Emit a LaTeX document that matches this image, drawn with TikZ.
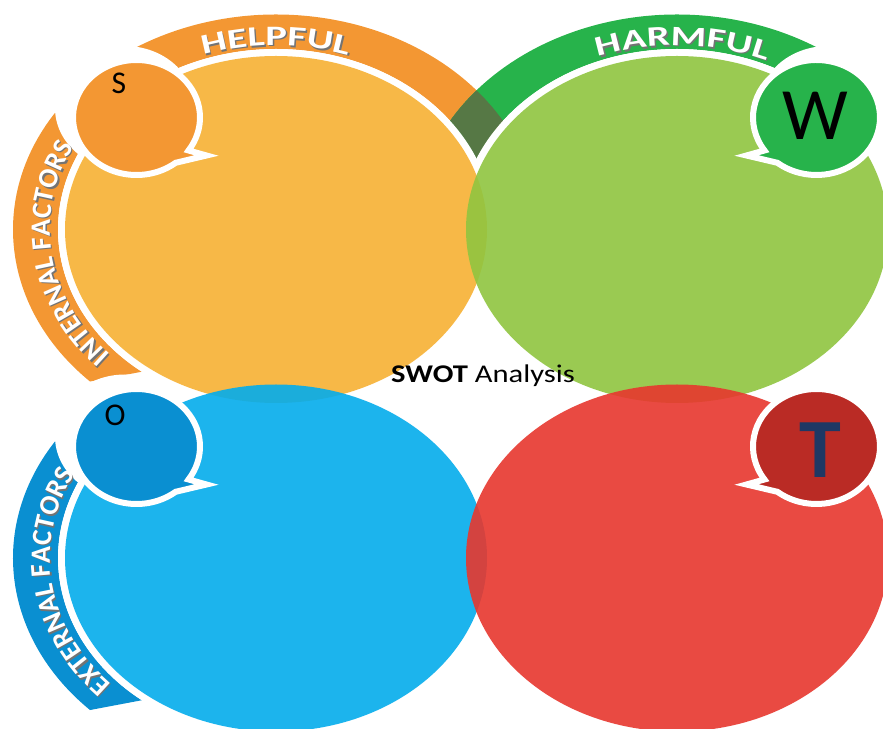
\documentclass[tikz,border=0pt]{standalone}
\usepackage{fontspec}
\setmainfont{Carlito}
\newfontfamily\widefont[FakeStretch=1.45]{Carlito}
\newfontfamily\titlefont[FakeStretch=1.2]{Carlito}
\usetikzlibrary{decorations.text}
\definecolor{helpfill}{RGB}{247,177,51}
\definecolor{harmfill}{RGB}{144,197,64}
\definecolor{oppfill}{RGB}{4,172,236}
\definecolor{threatfill}{RGB}{231,55,46}
\definecolor{helpband}{RGB}{243,151,51}
\definecolor{harmband}{RGB}{39,179,75}
\definecolor{oppband}{RGB}{10,143,209}
\definecolor{threatbub}{RGB}{186,43,37}
\definecolor{crossband}{RGB}{86,120,69}
\definecolor{tnavy}{RGB}{31,56,100}
\newcommand{\bandfont}{\fontsize{16}{16}\selectfont\bfseries}
\newcommand{\archfont}{\widefont\fontsize{16}{16}\selectfont\bfseries}
\newcommand{\bandpath}[2]{(#1:263 and 215) arc[start angle=#1,end angle=#2,x radius=263,y radius=215] -- (#2:218 and 180.5) arc[start angle=#2,end angle=#1-7,x radius=218,y radius=180.5] -- cycle}
\newcommand{\bubblepath}[3]{(#1:63.5 and 57.5) arc[start angle=#1,end angle=#2,x radius=63.5,y radius=57.5] -- #3 -- cycle}
\begin{document}
\begin{tikzpicture}[x=0.2mm,y=-0.2mm,bubble/.style={draw=white,line width=1.2mm},bandtext/.style 2 args={decorate,decoration={text along path,text align=center,text color=#2,text={#1}}}]
\useasboundingbox (0,0) rectangle (883,729);
% bands
\begin{scope}[shift={(276,229.5)}]
  \fill[helpband] \bandpath{135}{340};
\end{scope}
\begin{scope}[shift={(677,229.5)}]
  \fill[harmband] \bandpath{200}{312};
\end{scope}
\begin{scope}
  \clip[shift={(276,229.5)}] \bandpath{135}{340};
  \fill[crossband,shift={(677,229.5)}] \bandpath{200}{312};
\end{scope}
\begin{scope}[shift={(276,558)}]
  \fill[oppband] \bandpath{135}{228};
\end{scope}
% gaps round the bubbles and the ellipses
\fill[white] (125,108) ellipse[x radius=70,y radius=62];
\fill[white] (828,108) ellipse[x radius=70,y radius=62];
\fill[white] (125,436.5) ellipse[x radius=70,y radius=62];
\foreach \cx/\cy in {276/229.5,677/229.5,276/558,677/558}
  \fill[white] (\cx,\cy) ellipse[x radius=218,y radius=180.5];
% the four ellipses
\fill[helpfill,fill opacity=0.9] (276,229.5) ellipse[x radius=211,y radius=173.5];
\fill[harmfill,fill opacity=0.9] (677,229.5) ellipse[x radius=211,y radius=173.5];
\fill[oppfill,fill opacity=0.9] (276,558) ellipse[x radius=211,y radius=173.5];
\fill[threatfill,fill opacity=0.9] (677,558) ellipse[x radius=211,y radius=173.5];
% band labels
\begin{scope}[shift={(276,229.5)}]
  \path[bandtext={|\archfont|HELPFUL}{black!55},shift={(1.5,1.5)}] (245:226 and 184) arc[start angle=245,end angle=295,x radius=226,y radius=184];
  \path[bandtext={|\archfont|HELPFUL}{white}] (245:226 and 184) arc[start angle=245,end angle=295,x radius=226,y radius=184];
  \path[bandtext={|\bandfont|INTERNAL FACTORS}{black!55},shift={(1.5,1.5)}] (134:226 and 184) arc[start angle=134,end angle=210,x radius=226,y radius=184];
  \path[bandtext={|\bandfont|INTERNAL FACTORS}{white}] (134:226 and 184) arc[start angle=134,end angle=210,x radius=226,y radius=184];
\end{scope}
\begin{scope}[shift={(677,229.5)}]
  \path[bandtext={|\archfont|HARMFUL}{black!55},shift={(1.5,1.5)}] (244:226 and 184) arc[start angle=244,end angle=299,x radius=226,y radius=184];
  \path[bandtext={|\archfont|HARMFUL}{white}] (244:226 and 184) arc[start angle=244,end angle=299,x radius=226,y radius=184];
\end{scope}
\begin{scope}[shift={(276,558)}]
  \path[bandtext={|\bandfont|EXTERNAL FACTORS}{black!55},shift={(1.5,1.5)}] (134:226 and 184) arc[start angle=134,end angle=210,x radius=226,y radius=184];
  \path[bandtext={|\bandfont|EXTERNAL FACTORS}{white}] (134:226 and 184) arc[start angle=134,end angle=210,x radius=226,y radius=184];
\end{scope}
% speech bubbles
\filldraw[bubble,fill=helpband,shift={(136.5,117.5)}] \bubblepath{52}{395}{(70,38)};
\filldraw[bubble,fill=harmband,shift={(816.5,117.5)}] \bubblepath{145}{488}{(-70,38)};
\filldraw[bubble,fill=oppband,shift={(136.5,446.5)}] \bubblepath{52}{395}{(70,38)};
\filldraw[bubble,fill=threatbub,shift={(816.5,446.5)}] \bubblepath{145}{488}{(-70,38)};
\node[font=\fontsize{18}{18}\selectfont] (s) at (119,83) {S};
\node[font=\fontsize{18}{18}\selectfont] (o) at (115,415) {O};
\node[font=\fontsize{42}{42}\selectfont] (w) at (815,116) {W};
\node[text=tnavy,font=\fontsize{48}{48}\selectfont\bfseries] (t) at (820,450) {T};
\node[anchor=base,font=\titlefont\fontsize{14.5}{14.5}\selectfont] (title) at (483,383) {\textbf{SWOT} Analysis};
\end{tikzpicture}
\end{document}
